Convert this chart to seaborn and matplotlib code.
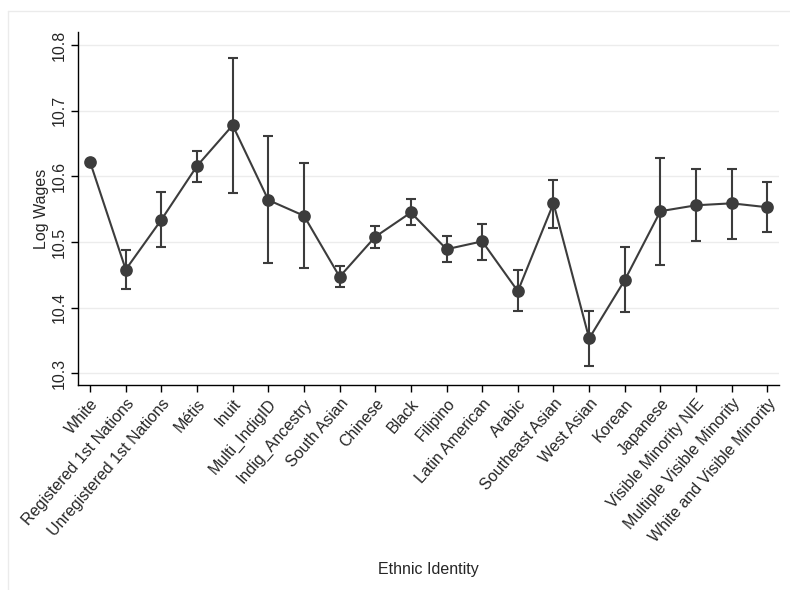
import numpy as np
import pandas as pd
import matplotlib
matplotlib.use('Agg')
import matplotlib.pyplot as plt
import seaborn as sns
from matplotlib.lines import Line2D

groups = ['White', 'Registered 1st Nations', 'Unregistered 1st Nations', 'Métis',
          'Inuit', 'Multi_IndigID', 'Indig_Ancestry', 'South Asian', 'Chinese',
          'Black', 'Filipino', 'Latin American', 'Arabic', 'Southeast Asian',
          'West Asian', 'Korean', 'Japanese', 'Visible Minority NIE',
          'Multiple Visible Minority', 'White and Visible Minority']
log_wage = [10.622, 10.458, 10.534, 10.616, 10.678, 10.564, 10.540, 10.447, 10.508,
            10.545, 10.489, 10.501, 10.425, 10.559, 10.353, 10.442, 10.547, 10.556,
            10.559, 10.553]
ci_low = [10.622, 10.429, 10.492, 10.591, 10.575, 10.468, 10.461, 10.432, 10.491,
          10.526, 10.469, 10.472, 10.395, 10.522, 10.311, 10.393, 10.465, 10.502,
          10.505, 10.515]
ci_high = [10.622, 10.488, 10.577, 10.639, 10.781, 10.662, 10.620, 10.464, 10.525,
           10.566, 10.509, 10.528, 10.458, 10.595, 10.395, 10.493, 10.628, 10.611,
           10.612, 10.592]

df = pd.DataFrame({'group': groups, 'wage': log_wage, 'lo': ci_low, 'hi': ci_high})

sns.set_theme(style='white')
plt.rcParams['font.family'] = ['Liberation Sans', 'DejaVu Sans']

dark = '#3c3c3c'
fig = plt.figure(figsize=(7.9, 5.9), dpi=100)
ax = fig.add_axes([0.0987, 0.3475, 0.888, 0.598])

sns.pointplot(data=df, x='group', y='wage', color=dark, markers='o',
              markersize=8, linewidth=1.5, errorbar=None, ax=ax)
pos = np.arange(len(df))
ax.errorbar(pos, df['wage'], yerr=[df['wage'] - df['lo'], df['hi'] - df['wage']],
            fmt='none', ecolor=dark, elinewidth=1.5, capsize=3.6, capthick=1.5)

ax.set_xlim(-0.34, len(df) - 1 + 0.34)
ax.set_ylim(10.282, 10.82)
ax.set_yticks([10.3, 10.4, 10.5, 10.6, 10.7, 10.8])
ax.set_yticklabels(['10.3', '10.4', '10.5', '10.6', '10.7', '10.8'],
                   rotation=90, va='center', fontsize=11.5)
ax.set_xticks(pos)
ax.set_xticklabels(groups, rotation=49, ha='right', rotation_mode='anchor',
                   fontsize=11.5)
ax.grid(axis='y', color='#ececec', linewidth=1)
ax.set_axisbelow(True)
sns.despine(ax=ax)
for s in ['left', 'bottom']:
    ax.spines[s].set_color('black')
    ax.spines[s].set_linewidth(1)
ax.tick_params(axis='both', which='both', direction='out', length=5, width=1,
               color='black', bottom=True, left=True, pad=3)
ax.set_xlabel('Ethnic Identity', fontsize=11.5, labelpad=12)
ax.set_ylabel('Log Wages', fontsize=11.5, labelpad=2)

# light outer frame (top and left edges visible)
fig.add_artist(Line2D([0.0101, 1.0], [0.981, 0.981], transform=fig.transFigure,
                      color='#ebebeb', linewidth=1))
fig.add_artist(Line2D([0.0101, 0.0101], [0.0, 0.981], transform=fig.transFigure,
                      color='#ebebeb', linewidth=1))

fig.savefig('out.png', dpi=100, facecolor='white')
